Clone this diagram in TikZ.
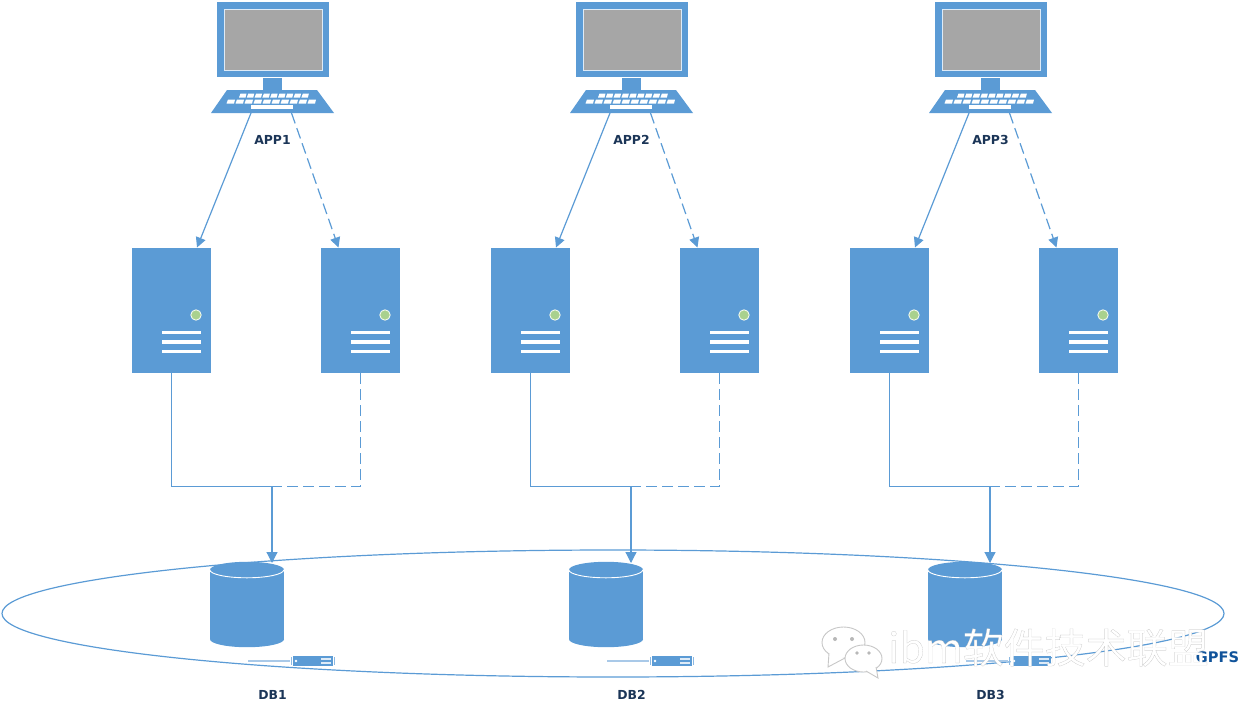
\documentclass[tikz,border=0pt]{standalone}
\usepackage{fontspec}
\usepackage{tikz}
\usetikzlibrary{positioning,arrows.meta,shapes.geometric}
\newfontfamily\labelfont{DejaVu Sans}
\newfontfamily\cjkfont[FakeBold=0.35]{Noto Sans CJK SC}
\definecolor{boxblue}{HTML}{5B9BD5}
\definecolor{paleblue}{HTML}{A9C9E8}
\definecolor{screengray}{HTML}{A6A6A6}
\definecolor{ledgreen}{HTML}{A9D18E}
\definecolor{labelnavy}{HTML}{1B3557}
\tikzset{
    srvbox/.style={rectangle, fill=boxblue, inner sep=0, minimum width=79, minimum height=125},
    dbbody/.style={rectangle, fill=boxblue, inner sep=0, minimum width=74, minimum height=69},
    tag/.style={font=\labelfont\bfseries\fontsize{12.4}{14}\selectfont, text=labelnavy, inner sep=0},
    link/.style={draw=boxblue, line width=1.2pt},
    linkd/.style={link, dash pattern=on 11pt off 5pt},
    tipa/.style={-{Triangle[width=10pt,length=10pt]}},
    tipb/.style={-{Triangle[width=11pt,length=11pt]}},
    mark text/.style={font=\cjkfont\fontsize{41}{41}\selectfont, inner sep=0, anchor=base west},
    bubble/.style={fill=white, draw=black!22, line width=0.9pt}
}
\begin{document}
\begin{tikzpicture}[x=1pt, y=-1pt]
    \useasboundingbox (0,0) rectangle (1250,715);

    \node[ellipse, draw=boxblue, line width=1.2pt, inner sep=0, minimum width=1222, minimum height=127] (gpfsring) at (613,613.5) {};

    % one column per application
    \foreach \c/\dx in {1/0, 2/359, 3/718} {
    \begin{scope}[xshift=\dx]
        % monitor
        \node[rectangle, fill=boxblue, inner sep=0, minimum width=112, minimum height=75] (mon\c) at (273,39.5) {};
        \node[rectangle, fill=screengray, draw=white!80!boxblue, line width=1.4pt, inner sep=0, minimum width=98, minimum height=61] (scr\c) at (273.5,40) {};
        \fill[boxblue] (263,78) rectangle (282,90);
        % keyboard
        \fill[boxblue] (227,90) -- (317,90) -- (334,113) -- (211,113) -- cycle;
        \foreach \k in {0,...,8}
            \fill[white] ({240.5+7.8*\k},93.5) -- ++(6,0) -- ++(-1,4) -- ++(-6.5,0) -- cycle;
        \foreach \k in {0,...,9}
            \fill[white] ({228+9*\k},99.5) -- ++(7,0) -- ++(-1,4) -- ++(-7.5,0) -- cycle;
        \fill[white] (251,105) rectangle (293,109);
        \coordinate (outl\c) at (251,113);
        \coordinate (outr\c) at (291.5,113);
        \node[tag] (app\c) at (272.5,139.5) {APP\c};

        % two servers
        \foreach \s/\sx in {l/0, r/189} {
        \begin{scope}[xshift=\sx]
            \node[srvbox] (srv\s\c) at (171.5,310.5) {};
            \fill[ledgreen, draw=white!85!ledgreen, line width=0.9pt] (196,315) circle[radius=5.2pt];
            \foreach \ly in {332.5,342,351.5}
                \fill[white] (162,\ly-1.7) rectangle (201,\ly+1.7);
        \end{scope}
        }
        \coordinate (inl\c) at (197,247.5);
        \coordinate (inr\c) at (338.5,247.5);
        \draw[link, tipa] (outl\c) -- (inl\c);
        \draw[linkd, tipa] (outr\c) -- (inr\c);

        % join above the database
        \coordinate (join\c) at (272,486.5);
        \coordinate (drop\c) at (272,563);
        \draw[link] (srvl\c.south) |- (join\c);
        \draw[linkd] (srvr\c.south) |- (join\c);
        \draw[linkd, draw=paleblue] ([xshift=-0.8]join\c) -- ([xshift=-0.8]drop\c);
        \draw[link, tipb] (join\c) -- (drop\c);

        % database
        \node[dbbody] (db\c) at (247,604.5) {};
        \fill[boxblue] (db\c.south) ellipse[x radius=37pt, y radius=8pt];
        \fill[boxblue] (db\c.north) ellipse[x radius=37pt, y radius=8pt];
        \draw[white, line width=0.9pt] (db\c.north west) arc[start angle=180, end angle=360, x radius=37pt, y radius=8pt];
        \node[tag] (dbl\c) at (272.5,695) {DB\c};

        % small disk unit
        \fill[boxblue] (293,656) rectangle (333,666);
        \draw[paleblue, line width=1.6pt] (248,661) -- (290,661);
        \draw[boxblue!70, line width=0.8pt] (291.5,657) -- (291.5,665) (334.5,657) -- (334.5,665);
        \fill[white] (296,661) circle[radius=1.4pt];
        \draw[white!80!boxblue, line width=1.4pt] (321,659) -- (331,659) (321,663) -- (331,663);
    \end{scope}
    }

    \node[tag, font=\labelfont\bfseries\fontsize{14.6}{16}\selectfont, text=labelnavy!75!blue!80!cyan] (gpfs) at (1217.5,657) {GPFS};

    % watermark
    \draw[bubble] (843.5,642.5) ellipse[x radius=21.5pt, y radius=15.5pt];
    \fill[bubble] (829,653) -- (828,667) -- (845,658);
    \fill[white] (831,651) -- (848,655) -- (831,657) -- cycle;
    \fill[black!28] (835,639) circle[radius=2pt] (852,639) circle[radius=2pt];
    \draw[bubble] (863.5,658.5) ellipse[x radius=18.5pt, y radius=13.5pt];
    \fill[bubble] (866,671) -- (878,678) -- (876,667);
    \fill[white] (864,668) -- (875,672) -- (874,664) -- cycle;
    \fill[black!28] (857,653) circle[radius=1.8pt] (869,653) circle[radius=1.8pt];
    \node[mark text, text=white] (markfront) at (888,663) {\special{pdf:code 0.72 0.72 0.72 RG}ibm软件技术联盟};
\end{tikzpicture}
\end{document}
